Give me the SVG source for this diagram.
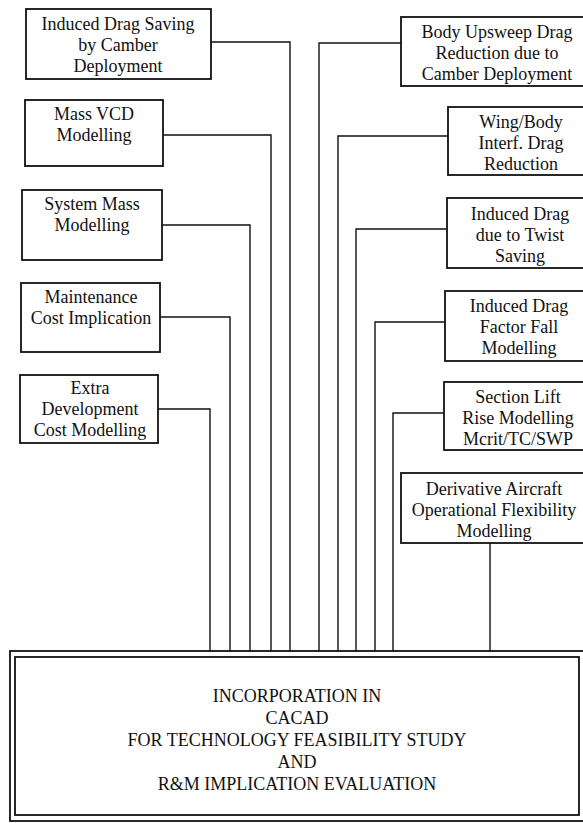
<svg xmlns="http://www.w3.org/2000/svg" width="583" height="823" viewBox="0 0 583 823">
<style>
  .bg { fill: #ffffff; }
  .box { fill: none; stroke: #111; stroke-width: 1.8; }
  .conn { fill: none; stroke: #111; stroke-width: 1.4; }
  text { font-family: "Liberation Serif", "Times New Roman", serif; font-size: 18px; fill: #111; text-anchor: middle; }
</style>
<rect class="bg" x="0" y="0" width="583" height="823"/>

<g id="connectors">
  <polyline class="conn" points="211,42 290,42 290,651"/>
  <polyline class="conn" points="163,135 271,135 271,651"/>
  <polyline class="conn" points="162,225 250,225 250,651"/>
  <polyline class="conn" points="160,317 230,317 230,651"/>
  <polyline class="conn" points="158,409 210,409 210,651"/>
  <polyline class="conn" points="401,43 319,43 319,651"/>
  <polyline class="conn" points="448,136 338,136 338,651"/>
  <polyline class="conn" points="447,229 356,229 356,651"/>
  <polyline class="conn" points="445,322 375,322 375,651"/>
  <polyline class="conn" points="444,413 393,413 393,651"/>
  <polyline class="conn" points="490,543 490,651"/>
</g>

<g id="induced-drag-saving">
  <rect class="box" x="26" y="9" width="185" height="70"/>
  <text x="118" y="30">Induced Drag Saving</text>
  <text x="118" y="51">by Camber</text>
  <text x="118" y="72">Deployment</text>
</g>

<g id="mass-vcd">
  <rect class="box" x="25" y="100" width="138" height="66"/>
  <text x="94" y="120">Mass VCD</text>
  <text x="94" y="141">Modelling</text>
</g>

<g id="system-mass">
  <rect class="box" x="22" y="190" width="140" height="70"/>
  <text x="92" y="210">System Mass</text>
  <text x="92" y="231">Modelling</text>
</g>

<g id="maintenance-cost">
  <rect class="box" x="21" y="283" width="139" height="69"/>
  <text x="91" y="303">Maintenance</text>
  <text x="91" y="324">Cost Implication</text>
</g>

<g id="extra-development">
  <rect class="box" x="20" y="375" width="138" height="68"/>
  <text x="90" y="394">Extra</text>
  <text x="90" y="415">Development</text>
  <text x="90" y="436">Cost Modelling</text>
</g>

<g id="body-upsweep">
  <rect class="box" x="401" y="17" width="200" height="69"/>
  <text x="497" y="38">Body Upsweep Drag</text>
  <text x="497" y="59">Reduction due to</text>
  <text x="497" y="80">Camber Deployment</text>
</g>

<g id="wing-body">
  <rect class="box" x="448" y="107" width="150" height="68"/>
  <text x="521" y="128">Wing/Body</text>
  <text x="521" y="149">Interf. Drag</text>
  <text x="521" y="170">Reduction</text>
</g>

<g id="twist-saving">
  <rect class="box" x="447" y="198" width="150" height="70"/>
  <text x="520" y="220">Induced Drag</text>
  <text x="520" y="241">due to Twist</text>
  <text x="520" y="262">Saving</text>
</g>

<g id="factor-fall">
  <rect class="box" x="445" y="291" width="150" height="70"/>
  <text x="519" y="312">Induced Drag</text>
  <text x="519" y="333">Factor Fall</text>
  <text x="519" y="354">Modelling</text>
</g>

<g id="section-lift">
  <rect class="box" x="444" y="382" width="150" height="68"/>
  <text x="518" y="403">Section Lift</text>
  <text x="518" y="424">Rise Modelling</text>
  <text x="518" y="445">Mcrit/TC/SWP</text>
</g>

<g id="derivative-aircraft">
  <rect class="box" x="401" y="473" width="200" height="70"/>
  <text x="494" y="495">Derivative Aircraft</text>
  <text x="494" y="516">Operational Flexibility</text>
  <text x="494" y="537">Modelling</text>
</g>

<g id="incorporation">
  <rect class="box" x="10" y="651" width="590" height="170"/>
  <rect class="box" x="15" y="657" width="564" height="158"/>
  <text x="297" y="702">INCORPORATION IN</text>
  <text x="297" y="724">CACAD</text>
  <text x="297" y="746">FOR TECHNOLOGY FEASIBILITY STUDY</text>
  <text x="297" y="768">AND</text>
  <text x="297" y="790">R&amp;M IMPLICATION EVALUATION</text>
</g>
</svg>
